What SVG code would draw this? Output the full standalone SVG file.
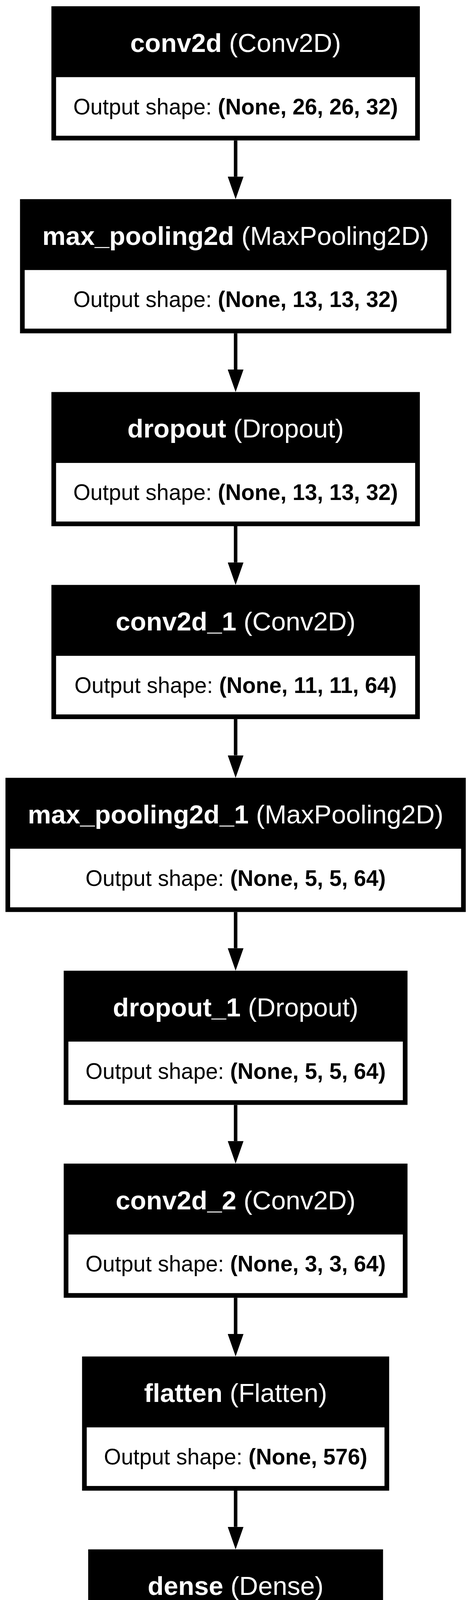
<svg xmlns="http://www.w3.org/2000/svg" width="1207" height="5315" viewBox="0 0 1207 5315">
<style>
.box{fill:#000}
.cell{fill:#fff}
.hd{font-family:"Liberation Sans",Arial,Helvetica,sans-serif;font-size:67px;fill:#fff;text-anchor:middle}
.bd{font-family:"Liberation Sans",Arial,Helvetica,sans-serif;font-size:56.5px;fill:#000;text-anchor:middle}
.b{font-weight:bold}
.edge{stroke:#000;stroke-width:9;fill:none}
</style>
<defs>
<marker id="ah" markerUnits="userSpaceOnUse" viewBox="0 0 57.6 40.4" markerWidth="57.6" markerHeight="40.4" refX="0" refY="20.2" orient="auto">
<path d="M0,0 L57.6,20.2 L0,40.4 Z" fill="#000"/>
</marker>
</defs>
<rect width="1207" height="5315" fill="#fff"/>
<g id="edges">
<line class="edge" x1="603.8" y1="359.5" x2="603.8" y2="452.2" marker-end="url(#ah)"/>
<line class="edge" x1="603.8" y1="853.3" x2="603.8" y2="946" marker-end="url(#ah)"/>
<line class="edge" x1="603.8" y1="1347.1" x2="603.8" y2="1439.8" marker-end="url(#ah)"/>
<line class="edge" x1="603.8" y1="1840.9" x2="603.8" y2="1933.6" marker-end="url(#ah)"/>
<line class="edge" x1="603.8" y1="2334.7" x2="603.8" y2="2427.4" marker-end="url(#ah)"/>
<line class="edge" x1="603.8" y1="2828.5" x2="603.8" y2="2921.2" marker-end="url(#ah)"/>
<line class="edge" x1="603.8" y1="3322.3" x2="603.8" y2="3415" marker-end="url(#ah)"/>
<line class="edge" x1="603.8" y1="3816.1" x2="603.8" y2="3908.8" marker-end="url(#ah)"/>
<line class="edge" x1="603.8" y1="4309.9" x2="603.8" y2="4402.6" marker-end="url(#ah)"/>
<line class="edge" x1="603.8" y1="4803.7" x2="603.8" y2="4896.4" marker-end="url(#ah)"/>
</g>
<g id="conv2d">
<rect class="box" x="131.7" y="16" width="944.2" height="343.5"/>
<rect class="cell" x="143.7" y="197.5" width="920.2" height="150"/>
<text class="hd" x="603.8" y="132.7"><tspan class="b">conv2d</tspan> (Conv2D)</text>
<text class="bd" x="603.8" y="292.6">Output shape: <tspan class="b">(None, 26, 26, 32)</tspan></text>
</g>
<g id="max_pooling2d">
<rect class="box" x="51.3" y="509.8" width="1105" height="343.5"/>
<rect class="cell" x="63.3" y="691.3" width="1081" height="150"/>
<text class="hd" x="603.8" y="626.5"><tspan class="b">max_pooling2d</tspan> (MaxPooling2D)</text>
<text class="bd" x="603.8" y="786.4">Output shape: <tspan class="b">(None, 13, 13, 32)</tspan></text>
</g>
<g id="dropout">
<rect class="box" x="131.7" y="1003.6" width="944.2" height="343.5"/>
<rect class="cell" x="143.7" y="1185.1" width="920.2" height="150"/>
<text class="hd" x="603.8" y="1120.3"><tspan class="b">dropout</tspan> (Dropout)</text>
<text class="bd" x="603.8" y="1280.2">Output shape: <tspan class="b">(None, 13, 13, 32)</tspan></text>
</g>
<g id="conv2d_1">
<rect class="box" x="131.7" y="1497.4" width="944.2" height="343.5"/>
<rect class="cell" x="143.7" y="1678.9" width="920.2" height="150"/>
<text class="hd" x="603.8" y="1614.1"><tspan class="b">conv2d_1</tspan> (Conv2D)</text>
<text class="bd" x="603.8" y="1774">Output shape: <tspan class="b">(None, 11, 11, 64)</tspan></text>
</g>
<g id="max_pooling2d_1">
<rect class="box" x="14" y="1991.2" width="1179.6" height="343.5"/>
<rect class="cell" x="26" y="2172.7" width="1155.6" height="150"/>
<text class="hd" x="603.8" y="2107.9"><tspan class="b">max_pooling2d_1</tspan> (MaxPooling2D)</text>
<text class="bd" x="603.8" y="2267.8">Output shape: <tspan class="b">(None, 5, 5, 64)</tspan></text>
</g>
<g id="dropout_1">
<rect class="box" x="163.3" y="2485" width="881" height="343.5"/>
<rect class="cell" x="175.3" y="2666.5" width="857" height="150"/>
<text class="hd" x="603.8" y="2601.7"><tspan class="b">dropout_1</tspan> (Dropout)</text>
<text class="bd" x="603.8" y="2761.6">Output shape: <tspan class="b">(None, 5, 5, 64)</tspan></text>
</g>
<g id="conv2d_2">
<rect class="box" x="163.3" y="2978.8" width="881" height="343.5"/>
<rect class="cell" x="175.3" y="3160.3" width="857" height="150"/>
<text class="hd" x="603.8" y="3095.5"><tspan class="b">conv2d_2</tspan> (Conv2D)</text>
<text class="bd" x="603.8" y="3255.4">Output shape: <tspan class="b">(None, 3, 3, 64)</tspan></text>
</g>
<g id="flatten">
<rect class="box" x="210.3" y="3472.6" width="787" height="343.5"/>
<rect class="cell" x="222.3" y="3654.1" width="763" height="150"/>
<text class="hd" x="603.8" y="3589.3"><tspan class="b">flatten</tspan> (Flatten)</text>
<text class="bd" x="603.8" y="3749.2">Output shape: <tspan class="b">(None, 576)</tspan></text>
</g>
<g id="dense">
<rect class="box" x="226" y="3966.4" width="755.6" height="343.5"/>
<rect class="cell" x="238" y="4147.9" width="731.6" height="150"/>
<text class="hd" x="603.8" y="4083.1"><tspan class="b">dense</tspan> (Dense)</text>
<text class="bd" x="603.8" y="4243">Output shape: <tspan class="b">(None, 64)</tspan></text>
</g>
<g id="dropout_2">
<rect class="box" x="226" y="4460.2" width="755.6" height="343.5"/>
<rect class="cell" x="238" y="4641.7" width="731.6" height="150"/>
<text class="hd" x="603.8" y="4576.9"><tspan class="b">dropout_2</tspan> (Dropout)</text>
<text class="bd" x="603.8" y="4736.8">Output shape: <tspan class="b">(None, 64)</tspan></text>
</g>
<g id="dense_1">
<rect class="box" x="226" y="4954" width="755.6" height="343.5"/>
<rect class="cell" x="238" y="5135.5" width="731.6" height="150"/>
<text class="hd" x="603.8" y="5070.7"><tspan class="b">dense_1</tspan> (Dense)</text>
<text class="bd" x="603.8" y="5230.6">Output shape: <tspan class="b">(None, 10)</tspan></text>
</g>
</svg>
